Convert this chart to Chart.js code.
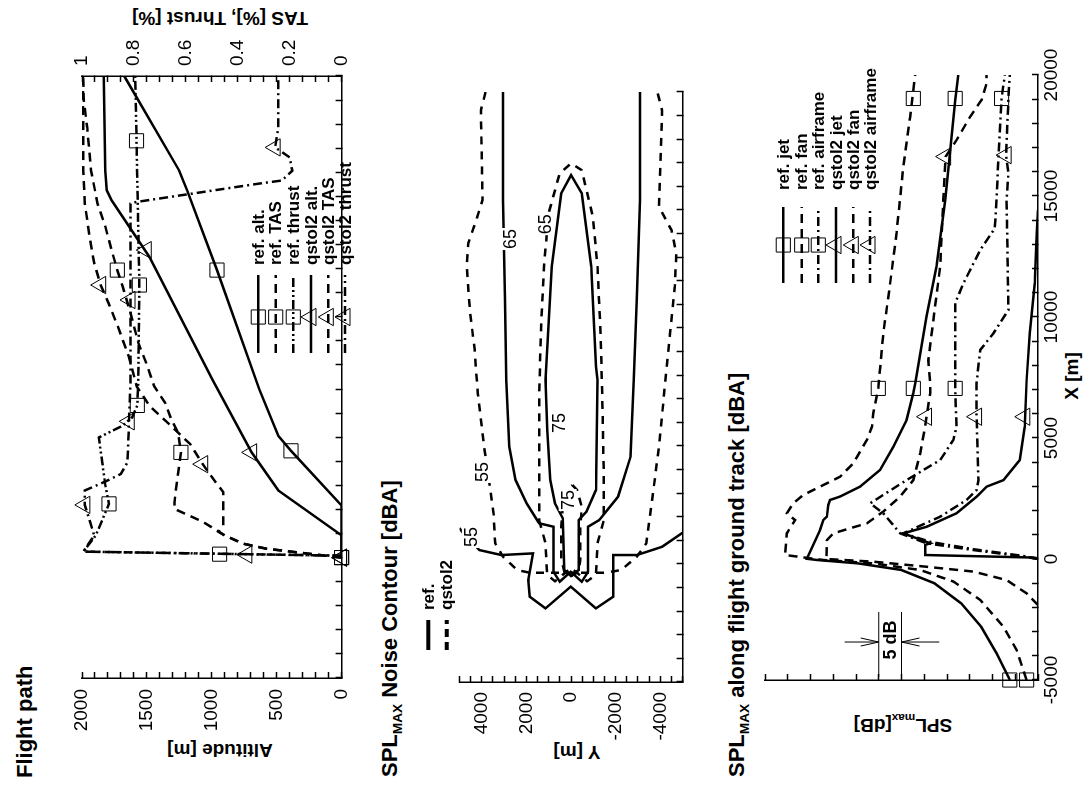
<!DOCTYPE html>
<html lang="en">
<head>
<meta charset="UTF-8">
<title>Flight path and SPLmax</title>
<script src="https://cdn.jsdelivr.net/npm/chart.js"></script>
<style>
  html, body { margin: 0; padding: 0; background: #fff; overflow: hidden; }
  body { width: 1085px; height: 788px; position: relative; }
  /* the figure is laid out upright, then turned a quarter turn to the left */
  #fig { position: absolute; left: 0; top: 0; width: 788px; height: 1085px;
         transform-origin: 0 0; transform: translate(0px, 788px) rotate(-90deg);
         font-family: "Liberation Sans", Arial, sans-serif; color: #000; background: #fff; }
  #fig canvas { position: absolute; left: 0; }
  .t { position: absolute; white-space: nowrap; font-weight: bold; line-height: 1; }
  .rot { transform: translate(-50%, -50%) rotate(-90deg); }
  .ctr { transform: translate(-50%, -50%); }
  sub { font-size: 62%; vertical-align: -0.35em; line-height: 0; }
</style>
</head>
<body>
<div id="fig">
  <div class="t" style="left:10px;top:14px;font-size:22px">Flight path</div>
  <div class="t rot" style="left:38px;top:220px;font-size:19px">Altitude [m]</div>
  <div class="t rot" style="left:770px;top:220px;font-size:19px">TAS [%], Thrust [%]</div>
  <canvas id="c1" width="788" height="330" style="top:40px;width:788px;height:330px"></canvas>

  <div class="t" style="left:11px;top:379px;font-size:22px">SPL<sub>MAX</sub> Noise Contour [dBA]</div>
  <div class="t rot" style="left:36px;top:577px;font-size:19px">Y [m]</div>
  <canvas id="c2" width="788" height="290" style="top:420px;width:788px;height:290px"></canvas>

  <div class="t" style="left:11px;top:726px;font-size:22px">SPL<sub>MAX</sub> along flight ground track [dBA]</div>
  <div class="t rot" style="left:63px;top:903px;font-size:19px">SPL<sub>max</sub>[dB]</div>
  <div class="t ctr" style="left:412px;top:1071px;font-size:19px">X [m]</div>
  <canvas id="c3" width="788" height="345" style="top:740px;width:788px;height:345px"></canvas>
</div>

<script>
const FONT = '"Liberation Sans", Arial, sans-serif';

// ---------- Flight path: [X m, altitude m] and [X m, fraction] ----------
const refAlt = [[0,0],[2160,0],[4435,390],[5055,487],[6980,633],[11940,960],[15250,1190],[16070,1251],[20000,1675]];
const qstolAlt = [[0,0],[921,0],[2786,487],[4370,693],[7396,996],[12490,1481],[14835,1772],[15250,1809],[16070,1820],[20000,1833]];
const refTas = [[0,0],[370,0.29],[580,0.38],[920,0.45],[1490,0.535],[2024,0.644],[2290,0.644],[3264,0.633],[4370,0.619],[5190,0.63],[5740,0.656],[6430,0.68],[7120,0.722],[8090,0.753],[8915,0.783],[10155,0.813],[11280,0.844],[11940,0.864],[12770,0.886],[13740,0.91],[14700,0.94],[16070,0.965],[17860,0.98],[19000,0.993],[20000,0.996]];
const qstolTas = [[0,0],[370,0.29],[580,0.38],[920,0.45],[1070,0.474],[1330,0.456],[2720,0.456],[3140,0.486],[3880,0.535],[4710,0.583],[5500,0.66],[6300,0.74],[7110,0.789],[8360,0.82],[9600,0.862],[10570,0.898],[11320,0.928],[12220,0.953],[13320,0.971],[14700,0.989],[16070,0.995],[20000,0.996]];
const refThrust = [[80,0],[248,0.995],[921,0.947],[2231,0.896],[2990,0.91],[3955,0.922],[4990,0.935],[5475,0.844],[5820,0.807],[6320,0.787],[7400,0.783],[11320,0.779],[17310,0.79],[20000,0.795]];
const qstolThrust = [[80,0],[248,0.995],[921,0.953],[2190,0.989],[2786,0.989],[3160,0.91],[3475,0.85],[3955,0.825],[5330,0.82],[7396,0.813],[14700,0.813],[14770,0.79],[15535,0.316],[15660,0.23],[16070,0.19],[16620,0.2],[17035,0.256],[17860,0.244],[20000,0.244]];

const refAltMk = [[0,0],[4435,390],[11940,960]];
const qstolAltMk = [[0,0],[4370,693],[12770,1505]];
const refTasMk = [[0,0],[4370,0.619],[11940,0.864]];
const qstolTasMk = [[0,0],[3880,0.535],[11320,0.928]];
const refThrustMk = [[143,0.47],[2231,0.896],[6320,0.787],[11320,0.779],[17310,0.79]];
const qstolThrustMk = [[124,0.365],[2190,0.989],[5660,0.818],[10700,0.815],[17035,0.256]];

// ---------- SPLmax noise contours: [X m, Y m] ----------
const ref55 = [[1525,5000],[1370,4885],[590,4110],[380,3120],[450,1710],[-680,1920],[-1385,1850],[-1880,1145],[-960,15],[-1880,-1115],[-1385,-1890],[-680,-1890],[380,-1890],[380,-2950],[730,-4080],[1370,-5070],[1525,-5210]];
const ref65 = [[20000,3050],[15420,3050],[11185,2965],[7800,2910],[4970,2770],[3560,2490],[2570,1990],[1725,1430],[1580,790],[-330,790],[-750,510],[-330,15],[-750,-480],[-330,-760],[1580,-760],[1860,-1260],[2850,-2105],[4550,-2670],[7800,-2810],[11185,-2950],[15420,-3090],[20000,-3090]];
const ref75 = [[-255,300],[1935,370],[2570,720],[3560,930],[5680,1070],[7800,1145],[12600,860],[15705,440],[16480,0],[15705,-480],[12600,-900],[8360,-1115],[7800,-1185],[3135,-1115],[2215,-690],[1860,-340],[-255,-340],[-510,0],[-255,300]];
const qstol55 = [[20000,3830],[19236,4040],[15420,3970],[14575,4250],[13590,4605],[12600,4675],[10760,4535],[9067,4320],[7230,4180],[4970,3900],[3135,3615],[2150,3475],[877,3400],[310,3050],[-255,2415],[-370,1850],[-370,-1540],[-255,-2245],[310,-2950],[877,-3375],[1860,-3515],[4970,-3940],[7300,-4180],[9775,-4435],[11750,-4650],[13160,-4720],[14150,-4500],[15140,-3940],[19235,-4080],[20000,-3870]];
const qstol65 = [[1860,1430],[877,1145],[-460,1070],[-730,720],[-400,300],[-170,0],[-400,-300],[-730,-720],[-460,-1115],[877,-1185],[1860,-1470],[3560,-1470],[7090,-1400],[9775,-1325],[12600,-1185],[14720,-975],[16690,-480],[16975,0],[16550,510],[14860,1005],[12600,1215],[9775,1355],[7090,1430],[3560,1430],[1860,1430]];
const qstol75 = [[3350,-55],[3135,-270],[2430,-480],[1440,-410],[170,-410],[-330,-340],[-510,0],[-330,300],[170,440],[1580,440],[2430,370],[3000,210],[3350,-55]];
const contourLabels = [['55',1145,4490],['55',3900,3980],['65',13770,2750],['65',14400,1165],['75',5975,530],['75',2710,150]];

// ---------- SPLmax along the ground track: [X m, dB] ----------
const refJet = [[-5000,46.2],[-3900,49.1],[-2800,52.5],[-1830,56.9],[-1000,62.8],[-450,70.1],[-180,79.6],[-40,88.6],[10,90.8],[1200,87.9],[1610,87.2],[1750,86.4],[2230,86.1],[2440,85.7],[2580,83.5],[2990,79.1],[3680,74.7],[4640,71.8],[5740,68.9],[6850,67.4],[7260,67.0],[10020,64.5],[12090,62.3],[14840,60.4],[16900,59.3],[18970,58.2],[20000,57.5]];
const refFan = [[-5000,42.5],[-3760,44.7],[-2800,47.6],[-1690,52.7],[-930,58.6],[-455,65.9],[-180,76.2],[-40,87.2],[165,95.6],[1060,95.2],[1610,93.4],[1890,95.2],[2300,93.8],[2645,91.6],[2990,87.9],[3400,83.5],[3955,80.6],[4920,77.6],[5470,76.5],[6020,76.2],[7050,75.1],[9325,74.0],[11390,72.5],[13455,71.1],[16210,69.6],[18280,68.1],[20000,67.0]];
const refAirframe = [[0,40],[100,43.2],[370,54.2],[650,64.5],[1060,70.3],[1890,74.0],[2300,76.9],[3260,68.9],[4090,61.5],[4920,58.6],[5470,57.9],[7050,58.2],[10570,58.2],[11390,56.4],[12770,52.7],[13660,49.5],[14840,49.1],[16630,48.7],[19030,48.0],[20000,47.3]];
const qstolJet = [[-40,38],[60,41],[165,64.8],[580,64.8],[650,63.7],[1060,69.6],[1330,64.5],[1890,57.9],[2575,53.5],[2990,51.3],[3260,47.6],[4090,44.0],[5470,42.9],[7400,42.5],[9325,41.8],[11390,40.7],[13455,40.3],[14420,40.0],[20000,39.5]];
const qstolFan = [[-1900,40],[-1420,42.5],[-870,46.9],[-520,54.2],[-320,64.5],[-110,76.2],[0,86.5],[780,86.4],[1060,85.0],[1270,81.3],[1475,77.6],[1960,74.0],[2580,70.3],[3260,67.4],[4370,65.9],[5470,64.8],[5880,64.5],[6850,63.7],[7260,63.7],[8220,64.1],[12090,61.5],[14840,60.8],[16630,60.3],[17310,57.9],[18280,54.9],[18970,52.4],[19650,51.3],[20000,51.3]];
const qstolAirframe = [[0,40],[120,43],[400,54],[700,63.5],[1060,69.6],[1750,61.5],[2440,55.7],[2850,53.5],[3260,53.1],[5880,53.5],[7260,53.5],[8640,52.7],[9325,49.8],[10290,46.5],[14840,46.9],[15940,46.5],[16690,47.0],[19030,46.5],[20000,46.2]];

const refJetMk = [[-5000,46.2],[7050,67.4],[19030,58.2]];
const refFanMk = [[-5000,42.5],[7050,75.1],[19030,67.4]];
const refAirMk = [[7050,58.2],[19030,48.0]];
const qstolJetMk = [[5880,42.9]];
const qstolFanMk = [[5880,64.5],[16630,60.3]];
const qstolAirMk = [[5880,53.5],[16690,47.0]];

// ---------- styles ----------
const SOLID = [], DASH = [9, 6], DASHDOT = [9, 4, 2, 4], DASHDOT2 = [9, 3, 2, 3, 2, 3];

Chart.defaults.font.family = FONT;
Chart.defaults.color = '#000';

const pts = a => a.map(([x, y]) => ({x, y}));

function curve(data, dash, axis, width) {
    return {data: pts(data), showLine: true, borderColor: '#000', borderWidth: width || 2.5,
            borderDash: dash, pointRadius: 0, yAxisID: axis || 'y', fill: false};
}
function marks(data, style, axis) {
    return {data: pts(data), showLine: false, pointStyle: style, pointRadius: 10,
            borderColor: '#000', pointBorderColor: '#000', pointBorderWidth: 1,
            backgroundColor: 'rgba(0,0,0,0)', pointBackgroundColor: 'rgba(0,0,0,0)',
            yAxisID: axis || 'y', clip: false};
}

function axisCommon(pos, min, max, step, size, labels, pad, fmt) {
    return {
        type: 'linear', position: pos, min: min, max: max,
        afterFit: s => { if (pos === 'bottom') s.height = size; else s.width = size; },
        border: {display: true, color: '#000', width: 1.5},
        grid: {display: true, drawOnChartArea: false, drawTicks: true, tickLength: -6, tickColor: '#000', tickWidth: 1.5},
        ticks: {display: labels, stepSize: step, autoSkip: false, maxRotation: 0, minRotation: 0,
                padding: pad, color: '#000', font: {family: FONT, size: 19}, callback: fmt}
    };
}
const fmtX = v => (v % 5000 === 0 ? String(v) : '');

function drawMark(ctx, style, x, y) {
    ctx.save();
    ctx.setLineDash([]);
    ctx.lineWidth = 1;
    ctx.strokeStyle = '#000';
    ctx.beginPath();
    if (style === 'rect') {
        const s = 7.07;
        ctx.rect(x - s, y - s, 2 * s, 2 * s);
    } else {
        const r = 10;
        ctx.moveTo(x, y - r);
        ctx.lineTo(x + r * 0.866, y + r / 2);
        ctx.lineTo(x - r * 0.866, y + r / 2);
        ctx.closePath();
    }
    ctx.stroke();
    ctx.restore();
}

// legend, contour labels and the 5 dB bar
const decor = {
    id: 'decor',
    afterDatasetsDraw(chart, args, opts) {
        const ctx = chart.ctx;
        const xs = chart.scales.x, ys = chart.scales.y;
        ctx.save();
        if (opts.legend) {
            const L = opts.legend;
            L.items.forEach((it, i) => {
                const y = L.rows[i];
                ctx.strokeStyle = '#000';
                ctx.lineWidth = L.width || 2.5;
                ctx.setLineDash(it[1]);
                ctx.beginPath();
                ctx.moveTo(L.x0, y);
                ctx.lineTo(L.x1, y);
                ctx.stroke();
                ctx.setLineDash([]);
                if (it[2]) drawMark(ctx, it[2], L.mx, y);
                ctx.fillStyle = '#000';
                ctx.font = 'bold 17px ' + FONT;
                ctx.textAlign = 'left';
                ctx.textBaseline = 'middle';
                ctx.fillText(it[0], L.tx, y + 1);
            });
        }
        if (opts.labels) {
            ctx.font = '18px ' + FONT;
            ctx.textAlign = 'center';
            ctx.textBaseline = 'middle';
            opts.labels.forEach(([t, x, y]) => {
                const px = xs.getPixelForValue(x), py = ys.getPixelForValue(y);
                const w = ctx.measureText(t).width;
                ctx.fillStyle = '#fff';
                ctx.fillRect(px - w / 2 - 1, py - 9, w + 2, 18);
                ctx.fillStyle = '#000';
                ctx.fillText(t, px, py + 1);
            });
        }
        if (opts.bar) {
            const b = opts.bar;
            const x0 = xs.getPixelForValue(b.x0), x1 = xs.getPixelForValue(b.x1), xa = xs.getPixelForValue(b.xa);
            const yHi = ys.getPixelForValue(b.hi), yLo = ys.getPixelForValue(b.lo);
            ctx.strokeStyle = '#000';
            ctx.lineWidth = 1;
            ctx.setLineDash([]);
            ctx.beginPath();
            ctx.moveTo(x0, yHi); ctx.lineTo(x1, yHi);
            ctx.moveTo(x0, yLo); ctx.lineTo(x1, yLo);
            const a1 = ys.getPixelForValue(b.arrowHi), a2 = ys.getPixelForValue(b.arrowLo);
            ctx.moveTo(xa, a1); ctx.lineTo(xa, yHi);
            ctx.moveTo(xa - 4, yHi - 18); ctx.lineTo(xa, yHi); ctx.lineTo(xa + 4, yHi - 18);
            ctx.moveTo(xa, a2); ctx.lineTo(xa, yLo);
            ctx.moveTo(xa - 4, yLo + 18); ctx.lineTo(xa, yLo); ctx.lineTo(xa + 4, yLo + 18);
            ctx.stroke();
            ctx.fillStyle = '#000';
            ctx.font = 'bold 18px ' + FONT;
            ctx.textAlign = 'center';
            ctx.textBaseline = 'middle';
            ctx.fillText('5 dB', xa + 2, (yHi + yLo) / 2 + 1);
        }
        ctx.restore();
    }
};

function baseOptions(padding) {
    return {
        responsive: false, animation: false, devicePixelRatio: 1, events: [],
        layout: {padding: padding, autoPadding: false},
        plugins: {legend: {display: false}, tooltip: {enabled: false}, title: {display: false}}
    };
}

// ---------- panel 1: flight path ----------
const o1 = baseOptions({top: 42, right: 0, bottom: 0, left: 0});
o1.scales = {
    x: axisCommon('bottom', -5000, 20000, 1000, 13, false, 8, fmtX),
    y: axisCommon('left', 0, 2000, 100, 110, true, 17, v => (v % 500 === 0 ? String(v) : '')),
    y2: axisCommon('right', 0, 1, 0.05, 76, true, 16,
        v => (Math.abs(v * 5 - Math.round(v * 5)) < 1e-6 ? String(+v.toFixed(1)) : ''))
};
o1.plugins.decor = {legend: {rows: [218.3, 235.7, 253.3, 271, 288.3, 305], x0: 435, x1: 513, mx: 471, tx: 523,
    items: [['ref. alt.', SOLID, 'rect'], ['ref. TAS', DASH, 'rect'], ['ref. thrust', DASHDOT2, 'rect'],
            ['qstol2 alt.', SOLID, 'triangle'], ['qstol2 TAS', DASH, 'triangle'], ['qstol2 thrust', DASHDOT, 'triangle']]}};

new Chart(document.getElementById('c1'), {
    type: 'scatter',
    data: {datasets: [
        curve(refAlt, SOLID), curve(qstolAlt, SOLID),
        curve(refTas, DASH, 'y2'), curve(qstolTas, DASH, 'y2'),
        curve(refThrust, DASHDOT2, 'y2'), curve(qstolThrust, DASHDOT, 'y2'),
        marks(refAltMk, 'rect'), marks(qstolAltMk, 'triangle'),
        marks(refTasMk, 'rect', 'y2'), marks(qstolTasMk, 'triangle', 'y2'),
        marks(refThrustMk, 'rect', 'y2'), marks(qstolThrustMk, 'triangle', 'y2')
    ]},
    options: o1,
    plugins: [decor]
});

// ---------- panel 2: noise contours ----------
const o2 = baseOptions({top: 39.5, right: 92, bottom: 0, left: 0});
o2.scales = {
    x: axisCommon('bottom', -5000, 20000, 1000, 14.5, false, 8, fmtX),
    y: axisCommon('left', -5000, 5000, 500, 106, true, 16, v => (v % 2000 === 0 ? String(v) : ''))
};
o2.plugins.decor = {
    legend: {rows: [8.3, 26.7], x0: 138, x1: 168, mx: 0, tx: 178, width: 4,
             items: [['ref.', SOLID, null], ['qstol2', [8, 5], null]]},
    labels: contourLabels
};

new Chart(document.getElementById('c2'), {
    type: 'scatter',
    data: {datasets: [
        curve(ref55, SOLID), curve(ref65, SOLID), curve(ref75, SOLID),
        curve(qstol55, [8, 7]), curve(qstol65, [8, 7]), curve(qstol75, [8, 7])
    ]},
    options: o2,
    plugins: [decor]
});

// ---------- panel 3: SPLmax along the ground track ----------
const o3 = baseOptions({top: 25, right: 75, bottom: 0, left: 0});
o3.scales = {
    x: axisCommon('bottom', -5000, 20000, 1000, 47, true, 8, fmtX),
    y: axisCommon('left', 40, 100, 5, 108, false, 8, v => '')
};
o3.plugins.decor = {
    legend: {rows: [43.3, 61.7, 78.3, 96, 113.3, 130], x0: 505, x1: 581, mx: 543, tx: 598,
        items: [['ref. jet', SOLID, 'rect'], ['ref. fan', DASH, 'rect'], ['ref. airframe', DASHDOT, 'rect'],
                ['qstol2 jet', SOLID, 'triangle'], ['qstol2 fan', DASH, 'triangle'], ['qstol2 airframe', DASHDOT, 'triangle']]},
    bar: {x0: -4876, x1: -2190, xa: -3430, hi: 75, lo: 70, arrowHi: 82.5, arrowLo: 61.7}
};

new Chart(document.getElementById('c3'), {
    type: 'scatter',
    data: {datasets: [
        curve(refJet, SOLID), curve(refFan, DASH), curve(refAirframe, DASHDOT),
        curve(qstolJet, SOLID), curve(qstolFan, DASH), curve(qstolAirframe, DASHDOT),
        marks(refJetMk, 'rect'), marks(refFanMk, 'rect'), marks(refAirMk, 'rect'),
        marks(qstolJetMk, 'triangle'), marks(qstolFanMk, 'triangle'), marks(qstolAirMk, 'triangle')
    ]},
    options: o3,
    plugins: [decor]
});
</script>
</body>
</html>
